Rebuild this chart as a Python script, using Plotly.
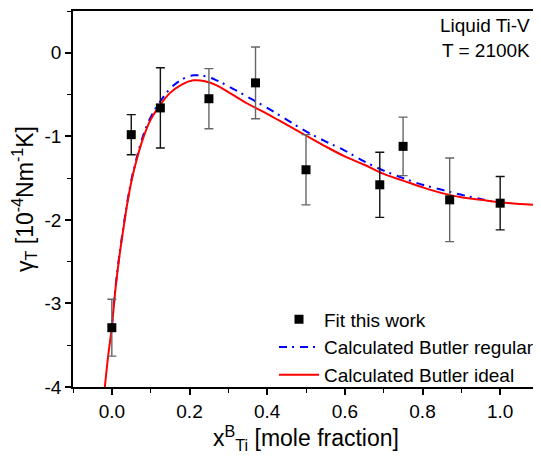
import plotly.graph_objects as go

# Measured points
x_fit = [0.0, 0.05, 0.125, 0.25, 0.37, 0.5, 0.69, 0.75, 0.87, 1.0]
y_fit = [-3.29, -0.98, -0.66, -0.55, -0.36, -1.40, -1.58, -1.12, -1.76, -1.80]
err_fit = [0.34, 0.24, 0.48, 0.36, 0.43, 0.42, 0.39, 0.35, 0.50, 0.32]
err_dark = [False, True, True, False, False, False, True, False, False, True]

# Calculated Butler regular
x_reg = [0.0, 0.01, 0.02, 0.03, 0.04, 0.05, 0.06, 0.08, 0.10, 0.125, 0.15, 0.18,
         0.21, 0.24, 0.27, 0.30, 0.35, 0.40, 0.45, 0.50, 0.55, 0.60, 0.65, 0.70,
         0.75, 0.80, 0.85, 0.90, 0.95, 1.00]
y_reg = [-3.28, -2.78, -2.40, -2.08, -1.78, -1.53, -1.33, -1.00, -0.77, -0.58, -0.43, -0.32,
         -0.27, -0.28, -0.33, -0.40, -0.53, -0.66, -0.80, -0.94, -1.06, -1.17, -1.30, -1.41,
         -1.50, -1.58, -1.64, -1.70, -1.75, -1.80]

# Calculated Butler ideal
x_ide = [-0.018, -0.01, 0.0, 0.01, 0.02, 0.03, 0.04, 0.05, 0.06, 0.08, 0.10, 0.125,
         0.15, 0.18, 0.21, 0.24, 0.27, 0.30, 0.35, 0.40, 0.45, 0.50, 0.55, 0.60,
         0.65, 0.70, 0.75, 0.80, 0.85, 0.90, 0.95, 1.00, 1.05, 1.10]
y_ide = [-4.0, -3.65, -3.28, -2.80, -2.42, -2.10, -1.80, -1.55, -1.35, -1.03, -0.80, -0.62,
         -0.48, -0.38, -0.33, -0.34, -0.39, -0.47, -0.61, -0.73, -0.86, -0.99, -1.12, -1.24,
         -1.34, -1.45, -1.53, -1.61, -1.68, -1.73, -1.76, -1.79, -1.81, -1.82]

x_ticks = [0.0, 0.2, 0.4, 0.6, 0.8, 1.0]
x_ticktext = ["0.0", "0.2", "0.4", "0.6", "0.8", "1.0"]
y_ticks = [0, -1, -2, -3, -4]
y_ticktext = ["0", "-1", "-2", "-3", "-4"]

FONT = "Liberation Sans, Arial, sans-serif"

fig = go.Figure()
fig.add_trace(go.Scatter(x=x_reg, y=y_reg, mode="lines", name="Calculated Butler regular",
                         line=dict(color="#0000ff", width=2, dash="8px,5px,2px,6px", shape="spline"),
                         legendrank=2))
fig.add_trace(go.Scatter(x=x_ide, y=y_ide, mode="lines", name="Calculated Butler ideal",
                         line=dict(color="#ff0000", width=2, shape="spline"),
                         legendrank=3))

for dark in (False, True):
    idx = [i for i, d in enumerate(err_dark) if d == dark]
    fig.add_trace(go.Scatter(
        x=[x_fit[i] for i in idx], y=[y_fit[i] for i in idx], mode="markers",
        name="Fit this work", showlegend=dark,
        marker=dict(symbol="square", size=9, color="black"),
        error_y=dict(type="data", array=[err_fit[i] for i in idx], visible=True,
                     color="#111111" if dark else "#666666", thickness=1.4, width=4.5),
        legendrank=1))

fig.add_annotation(x=1, y=1, xref="paper", yref="paper", xanchor="right", yanchor="top",
                   xshift=-7, yshift=-2, align="right", showarrow=False,
                   text="Liquid Ti-V<br>T = 2100K",
                   font=dict(family=FONT, size=19, color="black"))

# page body has an 8px margin: shift the figure so the plot area lands where the reference has it
fig.update_layout(
    width=534, height=449,
    margin=dict(l=65, r=1, t=3, b=70),
    paper_bgcolor="white", plot_bgcolor="white",
    font=dict(family=FONT, size=19, color="black"),
    showlegend=True,
    legend=dict(x=1, y=-0.02, xanchor="right", yanchor="bottom", bgcolor="rgba(0,0,0,0)",
                font=dict(size=19), tracegroupgap=0, itemwidth=40),
    xaxis=dict(range=[-0.1, 1.1], tickvals=x_ticks, ticktext=x_ticktext,
               ticks="outside", ticklen=6, tickwidth=1.5, tickcolor="black",
               minor=dict(dtick=0.1, tick0=0, ticks="outside", ticklen=4, tickwidth=1.2, tickcolor="black"),
               showline=True, linecolor="black", linewidth=1.5, mirror=True,
               showgrid=False, zeroline=False,
               title=dict(text="x<sup>B</sup><sub>Ti</sub> [mole fraction]", standoff=8)),
    yaxis=dict(range=[-4, 0.5], tickvals=y_ticks, ticktext=y_ticktext,
               ticks="outside", ticklen=6, tickwidth=1.5, tickcolor="black",
               minor=dict(dtick=0.5, tick0=0, ticks="outside", ticklen=4, tickwidth=1.2, tickcolor="black"),
               showline=True, linecolor="black", linewidth=1.5, mirror=True,
               showgrid=False, zeroline=False,
               title=dict(text="γ<sub>T</sub> [10<sup>-4</sup>Nm<sup>-1</sup>K]", standoff=6)),
)

fig.write_html("out.html")
